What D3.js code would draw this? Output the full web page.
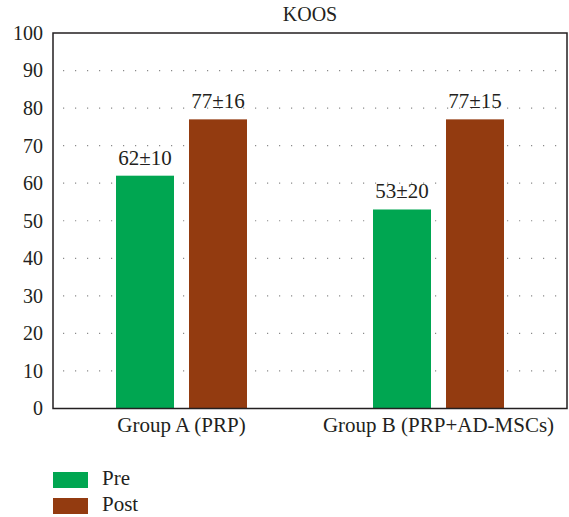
<!DOCTYPE html>
<html>
<head>
<meta charset="utf-8">
<script src="https://cdn.jsdelivr.net/npm/d3@7"></script>
<style>
  body { margin: 0; background: #fff; }
  text { font-family: "Liberation Serif", "DejaVu Serif", serif; fill: #231f20; }
</style>
</head>
<body>
<svg width="569" height="517"></svg>
<script>
const groups = ["Group A (PRP)", "Group B (PRP+AD-MSCs)"];
const series = ["Pre", "Post"];
const preValues = [62, 53];
const postValues = [77, 77];
const preLabels = ["62\u00b110", "53\u00b120"];
const postLabels = ["77\u00b116", "77\u00b115"];
const yTicks = [0, 10, 20, 30, 40, 50, 60, 70, 80, 90, 100];
const colors = ["#00a651", "#933b10"];

const data = [];
groups.forEach(function(g, i) {
    data.push({group: g, series: "Pre", value: preValues[i], label: preLabels[i]});
    data.push({group: g, series: "Post", value: postValues[i], label: postLabels[i]});
});

const margin = {left: 53, right: 2, top: 33, bottom: 109};
const width = 569, height = 517;

const svg = d3.select("svg");

const x0 = d3.scaleBand()
    .domain(groups)
    .range([margin.left, width - margin.right]);

const x1 = d3.scaleBand()
    .domain(series)
    .range([x0.bandwidth() / 2 - 65.5, x0.bandwidth() / 2 + 65.5])
    .paddingInner(0.2055);

const y = d3.scaleLinear()
    .domain([0, 100])
    .range([height - margin.bottom + 0.5, margin.top]);

const color = d3.scaleOrdinal().domain(series).range(colors);

// dotted grid
svg.append("g")
    .selectAll("line")
    .data(yTicks.filter(function(d) { return d > 0 && d < 100; }))
    .enter().append("line")
    .attr("x1", margin.left + 10)
    .attr("x2", width - margin.right)
    .attr("y1", function(d) { return y(d); })
    .attr("y2", function(d) { return y(d); })
    .attr("stroke", "#8a8a8a")
    .attr("stroke-width", 1.2)
    .attr("stroke-dasharray", "1.2,10.8");

// bars
svg.append("g")
    .selectAll("rect")
    .data(data)
    .enter().append("rect")
    .attr("x", function(d) { return x0(d.group) + x1(d.series); })
    .attr("width", x1.bandwidth())
    .attr("y", function(d) { return y(d.value); })
    .attr("height", function(d) { return y(0) - y(d.value); })
    .attr("fill", function(d) { return color(d.series); });

// value labels
svg.append("g")
    .selectAll("text")
    .data(data)
    .enter().append("text")
    .attr("x", function(d) { return x0(d.group) + x1(d.series) + x1.bandwidth() / 2; })
    .attr("y", function(d) { return y(d.value) - 11; })
    .attr("text-anchor", "middle")
    .style("font-size", "21px")
    .text(function(d) { return d.label; });

// frame
svg.append("rect")
    .attr("x", margin.left)
    .attr("y", margin.top)
    .attr("width", width - margin.right - margin.left)
    .attr("height", y(0) - margin.top)
    .attr("fill", "none")
    .attr("stroke", "#231f20")
    .attr("stroke-width", 1.5);

// y axis labels
const yAxis = d3.axisLeft(y).tickValues(yTicks).tickSize(0).tickPadding(10);
svg.append("g")
    .attr("transform", "translate(" + margin.left + ",0)")
    .call(yAxis)
    .call(function(g) { g.select(".domain").remove(); })
    .selectAll("text")
    .style("font-size", "20px")
    .attr("font-family", null);

// x axis labels
const xAxis = d3.axisBottom(x0).tickSize(0).tickPadding(9);
svg.append("g")
    .attr("transform", "translate(0," + y(0) + ")")
    .call(xAxis)
    .call(function(g) { g.select(".domain").remove(); })
    .selectAll("text")
    .style("font-size", "21px")
    .attr("font-family", null)
    .attr("dy", "0.71em");

// title
svg.append("text")
    .attr("x", (margin.left + width - margin.right) / 2)
    .attr("y", 21)
    .attr("text-anchor", "middle")
    .style("font-size", "20px")
    .text("KOOS");

// legend
const legend = svg.append("g")
    .selectAll("g")
    .data(series)
    .enter().append("g")
    .attr("transform", function(d, i) { return "translate(53," + (472 + i * 26) + ")"; });

legend.append("rect")
    .attr("width", 35)
    .attr("height", 16)
    .attr("fill", function(d) { return color(d); });

legend.append("text")
    .attr("x", 49)
    .attr("y", 13)
    .style("font-size", "21px")
    .text(function(d) { return d; });
</script>
</body>
</html>
